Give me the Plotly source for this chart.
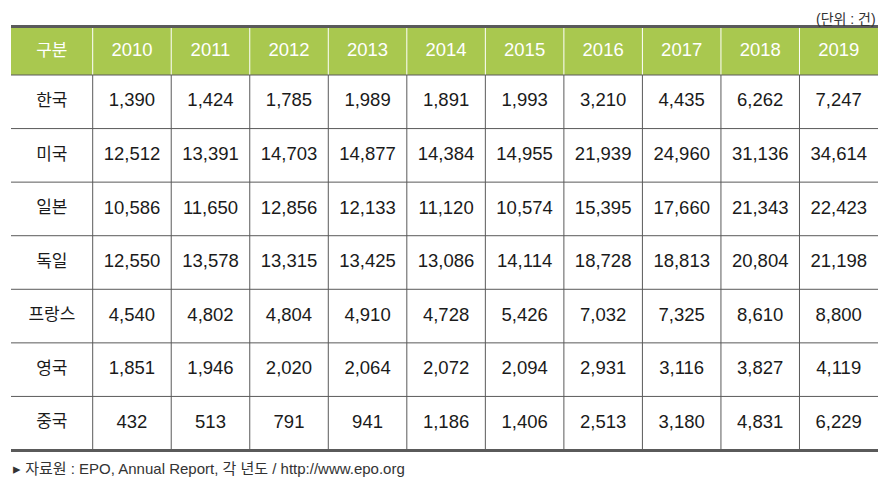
import plotly.graph_objects as go

years = ['2010', '2011', '2012', '2013', '2014', '2015', '2016', '2017', '2018', '2019']
countries = ['한국', '미국', '일본', '독일', '프랑스', '영국', '중국']
korea = [1390, 1424, 1785, 1989, 1891, 1993, 3210, 4435, 6262, 7247]
usa = [12512, 13391, 14703, 14877, 14384, 14955, 21939, 24960, 31136, 34614]
japan = [10586, 11650, 12856, 12133, 11120, 10574, 15395, 17660, 21343, 22423]
germany = [12550, 13578, 13315, 13425, 13086, 14114, 18728, 18813, 20804, 21198]
france = [4540, 4802, 4804, 4910, 4728, 5426, 7032, 7325, 8610, 8800]
uk = [1851, 1946, 2020, 2064, 2072, 2094, 2931, 3116, 3827, 4119]
china = [432, 513, 791, 941, 1186, 1406, 2513, 3180, 4831, 6229]
header_label = '구분'
unit_label = '(단위 : 건)'
source_label = '▸ 자료원 : EPO, Annual Report, 각 년도 / http://www.epo.org'

values = [korea, usa, japan, germany, france, uk, china]

# layout geometry (page pixels)
W, H = 887, 487
PAD = 8  # default page body margin
LEFT, RIGHT = 11, 878
FIRST_W = 81.7
TOP = 27.5
HEAD_B = 75
BOTTOM = 450
ncol = len(years)
col_w = (RIGHT - LEFT - FIRST_W) / ncol
nrow = len(countries)
row_h = (BOTTOM - HEAD_B) / nrow

GREEN = '#a9c84f'
LINE = '#5a5a5a'
NUM = 'Liberation Sans, Arial, sans-serif'
KR = 'Noto Sans CJK KR, sans-serif'
MIX = 'Liberation Sans, Noto Sans CJK KR, sans-serif'

col_edges = [LEFT, LEFT + FIRST_W] + [LEFT + FIRST_W + col_w * (j + 1) for j in range(ncol)]
col_centers = [(col_edges[i] + col_edges[i + 1]) / 2 for i in range(ncol + 1)]
row_edges = [HEAD_B + row_h * i for i in range(nrow + 1)]
row_centers = [(row_edges[i] + row_edges[i + 1]) / 2 for i in range(nrow)]
head_c = (TOP + HEAD_B) / 2

shapes = []
shapes.append(dict(type='rect', xref='x', yref='y', x0=LEFT, x1=RIGHT, y0=TOP, y1=HEAD_B,
                   fillcolor=GREEN, line=dict(width=0), layer='below'))
for xe in col_edges[1:-1]:
    shapes.append(dict(type='line', xref='x', yref='y', x0=xe, x1=xe, y0=TOP, y1=HEAD_B,
                       line=dict(color='white', width=1)))
for xe in col_edges[1:-1]:
    shapes.append(dict(type='line', xref='x', yref='y', x0=xe, x1=xe, y0=HEAD_B, y1=BOTTOM,
                       line=dict(color=LINE, width=1)))
for ye in row_edges[:-1]:
    shapes.append(dict(type='line', xref='x', yref='y', x0=LEFT, x1=RIGHT, y0=ye, y1=ye,
                       line=dict(color=LINE, width=1)))
shapes.append(dict(type='line', xref='x', yref='y', x0=LEFT, x1=RIGHT, y0=TOP - 1, y1=TOP - 1,
                   line=dict(color=LINE, width=3)))
shapes.append(dict(type='line', xref='x', yref='y', x0=LEFT, x1=RIGHT, y0=BOTTOM + 0.5, y1=BOTTOM + 0.5,
                   line=dict(color=LINE, width=3)))

fig = go.Figure()
fig.add_trace(go.Scatter(x=col_centers[1:], y=[head_c] * ncol, text=years, mode='text',
                         textfont=dict(family=NUM, size=18.5, color='white'), hoverinfo='skip'))
fig.add_trace(go.Scatter(x=[col_centers[0]], y=[head_c], text=[header_label], mode='text',
                         textfont=dict(family=KR, size=17, color='white'), hoverinfo='skip'))
fig.add_trace(go.Scatter(x=[col_centers[0]] * nrow, y=row_centers, text=countries, mode='text',
                         textfont=dict(family=KR, size=17, color='#1a1a1a'), hoverinfo='skip'))
xs, ys, ts = [], [], []
for i, row in enumerate(values):
    for j, v in enumerate(row):
        xs.append(col_centers[j + 1])
        ys.append(row_centers[i])
        ts.append(f'{v:,}')
fig.add_trace(go.Scatter(x=xs, y=ys, text=ts, mode='text',
                         textfont=dict(family=NUM, size=18.5, color='#1a1a1a'), hoverinfo='skip'))

fig.add_annotation(x=RIGHT, y=PAD + 0.5, xref='x', yref='y', text=unit_label, showarrow=False,
                   xanchor='right', yanchor='top',
                   font=dict(family=MIX, size=14, color='#333'))
fig.add_annotation(x=LEFT, y=468, xref='x', yref='y', text=source_label, showarrow=False,
                   xanchor='left', yanchor='middle',
                   font=dict(family=MIX, size=15, color='#333'))

fig.update_layout(width=W - 2 * PAD, height=H - 2 * PAD, margin=dict(l=0, r=0, t=0, b=0),
                  paper_bgcolor='white', plot_bgcolor='white', showlegend=False,
                  shapes=shapes,
                  xaxis=dict(range=[PAD, W - PAD], visible=False, fixedrange=True),
                  yaxis=dict(range=[H - PAD, PAD], visible=False, fixedrange=True))
fig.write_html('out.html')
